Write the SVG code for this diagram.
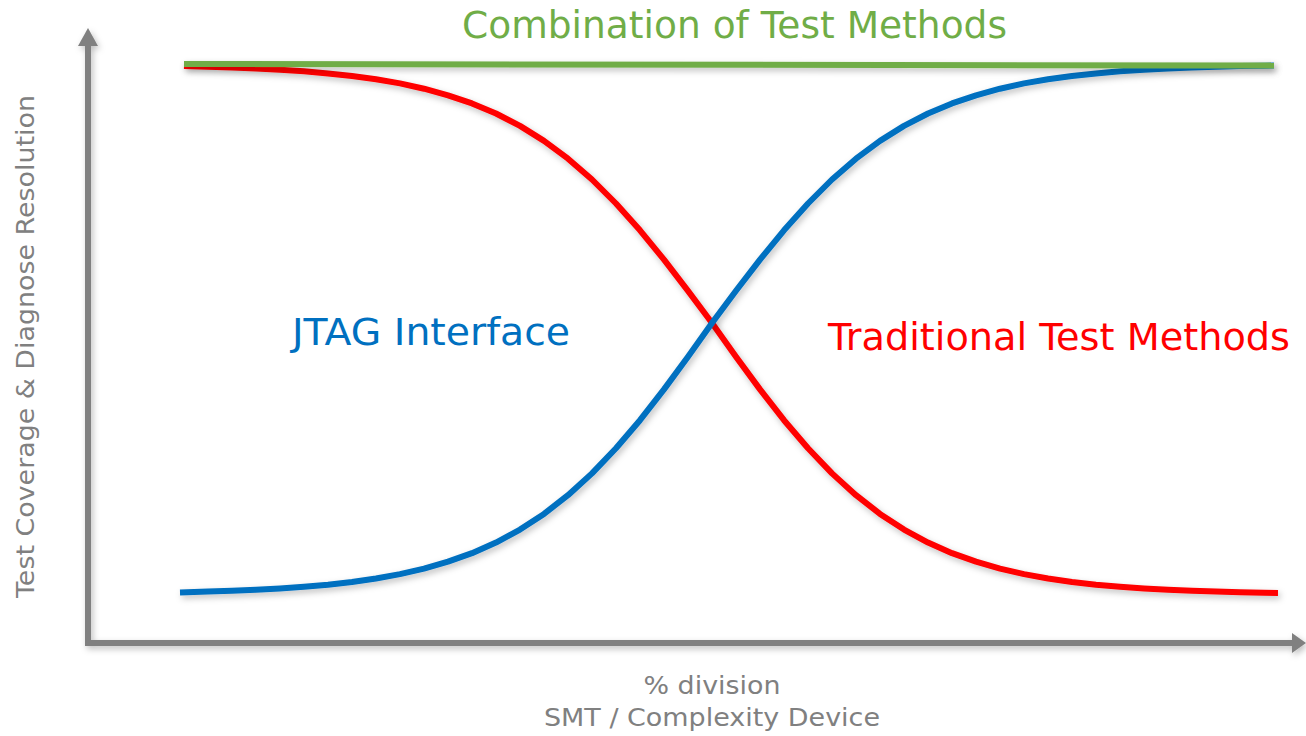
<svg xmlns="http://www.w3.org/2000/svg" width="1306" height="736" viewBox="0 0 1306 736">
<style>
.lbl{font-family:"DejaVu Sans","Verdana",sans-serif;}
.ax{fill:#808080;font-size:25px;}
.big{font-size:37px;}
.curve{fill:none;stroke-width:6;stroke-linecap:butt;stroke-linejoin:round;filter:url(#sh);}
</style>
<defs>
<filter id="sh" filterUnits="userSpaceOnUse" x="0" y="0" width="1306" height="736">
<feDropShadow dx="2" dy="3" stdDeviation="3" flood-color="#000" flood-opacity="0.25"/>
</filter>
</defs>
<rect width="1306" height="736" fill="#fff"/>
<g id="axes" filter="url(#sh)">
<line x1="88" y1="44" x2="88" y2="643" stroke="#808080" stroke-width="6"/>
<polygon points="88,28 98,46 78,46" fill="#808080"/>
<line x1="85" y1="643" x2="1292" y2="643" stroke="#808080" stroke-width="6"/>
<polygon points="1306,643 1292,633 1292,653" fill="#808080"/>
</g>
<g id="connectors">
<polyline id="red" class="curve" stroke="#FF0000" points="184,66.1 208,66.7 232,67.5 256,68.5 280,69.7 304,71.3 328,73.4 352,76 376,79.3 400,83.4 424,88.7 448,95.3 472,103.4 496,113.5 520,125.9 544,140.9 568,158.7 592,179.5 616,203.5 640,230.3 664,259.6 688,290.8 712,323 736,356.7 760,389.4 784,420.2 808,448.2 832,473.4 856,495.2 880,513.9 904,529.6 928,542.6 952,553.2 976,561.7 1000,568.6 1024,574.1 1048,578.5 1072,582 1096,584.7 1120,586.8 1144,588.5 1168,589.8 1192,590.8 1216,591.6 1240,592.3 1264,592.8 1278,593"/>
<polyline id="blue" class="curve" stroke="#0070C0" points="180,592.4 208,591.6 232,590.8 256,589.8 280,588.5 304,586.8 328,584.7 352,582 376,578.5 400,574.1 424,568.6 448,561.7 472,553.2 496,542.6 520,529.6 544,513.9 568,495.2 592,473.4 616,448.2 640,420.2 664,389.4 688,356.7 712,323 736,290.8 760,259.6 784,230.3 808,203.5 832,179.5 856,158.7 880,140.9 904,125.9 928,113.5 952,103.4 976,95.3 1000,88.7 1024,83.4 1048,79.3 1072,76 1096,73.4 1120,71.3 1144,69.7 1168,68.5 1192,67.5 1216,66.7 1240,66.1 1264,65.7 1274,65.5"/>
<path id="green" class="curve" stroke="#70AD47" d="M184,64 L1274,65.5"/>
</g>
<g id="title"><text class="lbl big" x="734.5" y="38" text-anchor="middle" fill="#70AD47" textLength="545" lengthAdjust="spacingAndGlyphs">Combination of Test Methods</text></g>
<g id="jtag"><text class="lbl big" x="431" y="345" text-anchor="middle" fill="#0070C0" textLength="278" lengthAdjust="spacingAndGlyphs">JTAG Interface</text></g>
<g id="trad"><text class="lbl big" x="1059" y="350" text-anchor="middle" fill="#FF0000" textLength="462" lengthAdjust="spacingAndGlyphs">Traditional Test Methods</text></g>
<g id="yaxis"><text class="lbl ax" transform="translate(34,346.5) rotate(-90)" text-anchor="middle" textLength="503" lengthAdjust="spacingAndGlyphs">Test Coverage &amp; Diagnose Resolution</text></g>
<g id="xaxis">
<text class="lbl ax" x="712" y="694" text-anchor="middle" textLength="137" lengthAdjust="spacingAndGlyphs">% division</text>
<text class="lbl ax" x="712" y="726" text-anchor="middle" textLength="336" lengthAdjust="spacingAndGlyphs">SMT / Complexity Device</text>
</g>
</svg>
